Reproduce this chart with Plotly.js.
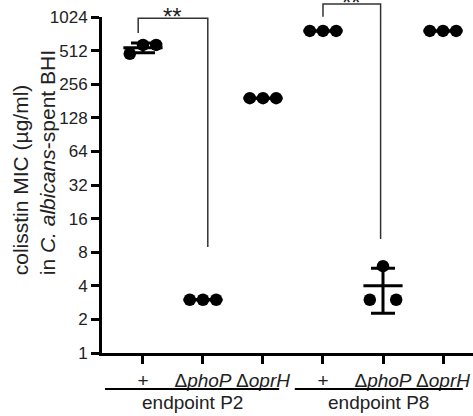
<!DOCTYPE html>
<html>
<head>
<meta charset="utf-8">
<script src="https://cdn.plot.ly/plotly-3.0.1.min.js"></script>
<style>html,body{margin:0;padding:0;background:#fff;}#chart{width:473px;height:416px;}</style>
</head>
<body>
<div id="chart"></div>
<script>
// ---- data ----
const categories = ['+', 'ΔphoP', 'ΔoprH', '+', 'ΔphoP', 'ΔoprH'];
const tickLabels = ['+', 'Δ<i>phoP</i>', 'Δ<i>oprH</i>', '+', 'Δ<i>phoP</i>', 'Δ<i>oprH</i>'];
const groupLabels = ['endpoint P2', 'endpoint P8'];
const p2Plus = [480, 576, 576];
const p2PhoP = [3, 3, 3];
const p2OprH = [192, 192, 192];
const p8Plus = [768, 768, 768];
const p8PhoP = [3, 6, 3];
const p8OprH = [768, 768, 768];
const yTickVals = [1, 2, 4, 8, 16, 32, 64, 128, 256, 512, 1024];
const yTickText = ['1', '2', '4', '8', '16', '32', '64', '128', '256', '512', '1024'];
const sigLabels = ['**', '**'];

const series = [p2Plus, p2PhoP, p2OprH, p8Plus, p8PhoP, p8OprH];

// ---- layout helpers ----
const font = 'Liberation Sans, Arial, sans-serif';
const spread = 0.22;
const xRange = [-0.683, 5.5];
const yRangeLog = [0, Math.log10(1024)];
function yPaper(v) { return (Math.log10(v) - yRangeLog[0]) / (yRangeLog[1] - yRangeLog[0]); }

const traces = [];
const ptsX = [], ptsY = [];
const meanX = [], meanY = [], sdArr = [];
series.forEach((vals, i) => {
  const n = vals.length;
  vals.forEach((v, j) => {
    ptsX.push(i + (j - (n - 1) / 2) * spread);
    ptsY.push(v);
  });
  const m = vals.reduce((a, b) => a + b, 0) / n;
  const sd = Math.sqrt(vals.reduce((a, b) => a + (b - m) * (b - m), 0) / (n - 1));
  meanX.push(i); meanY.push(m); sdArr.push(sd);
});

traces.push({
  x: meanX, y: meanY, type: 'scatter', mode: 'markers', hoverinfo: 'skip',
  marker: { symbol: 'line-ew', size: 28, line: { width: 3, color: '#000' }, color: '#000' },
  error_y: { type: 'data', array: sdArr, visible: true, color: '#000', thickness: 3, width: 12 },
  cliponaxis: false, showlegend: false
});
traces.push({
  x: ptsX, y: ptsY, type: 'scatter', mode: 'markers',
  marker: { size: 12.5, color: '#000' }, cliponaxis: false, showlegend: false
});

// brackets: category span, top value, left-leg bottom, right-leg bottom
const brackets = [
  { x0: -0.08, x1: 1.08, top: 1000, left: 735, right: 8.9, label: sigLabels[0] },
  { x0: 3.0, x1: 3.96, top: 1340, left: 1030, right: 10.5, label: sigLabels[1] }
];
const shapes = [];
const annotations = [];
brackets.forEach(b => {
  const yt = yPaper(b.top);
  shapes.push({ type: 'path', xref: 'x', yref: 'paper',
    path: `M ${b.x0},${yPaper(b.left)} L ${b.x0},${yt} L ${b.x1},${yt} L ${b.x1},${yPaper(b.right)}`,
    line: { color: '#333', width: 1.5 } });
  annotations.push({ x: (b.x0 + b.x1) / 2, y: yt, xref: 'x', yref: 'paper', text: b.label,
    showarrow: false, yanchor: 'bottom', yshift: -14,
    font: { family: font, size: 24, color: '#222' } });
});

// group underlines and labels
const groupSpans = [[-0.633, 2.27], [2.53, 5.33]];
groupSpans.forEach((s, k) => {
  shapes.push({ type: 'line', xref: 'x', yref: 'paper', x0: s[0], x1: s[1], y0: -0.107, y1: -0.107,
    line: { color: '#000', width: 2 } });
  annotations.push({ x: (s[0] + s[1]) / 2, y: -0.146, xref: 'x', yref: 'paper', text: groupLabels[k],
    showarrow: false, yanchor: 'middle', font: { family: font, size: 19, color: '#222' } });
});

// y title
annotations.push({
  xref: 'paper', yref: 'paper', x: -0.183, y: 0.565, textangle: -90, align: 'left',
  text: 'colisstin MIC (µg/ml)<br>in <i>C. albicans</i>-spent BHI', showarrow: false,
  xanchor: 'center', yanchor: 'middle', font: { family: font, size: 21, color: '#222' }
});

const layout = {
  width: 473, height: 416,
  margin: { l: 102, r: 0, t: 17, b: 63, pad: 0 },
  paper_bgcolor: '#fff', plot_bgcolor: '#fff',
  showlegend: false,
  font: { family: font, color: '#222' },
  xaxis: {
    range: xRange, tickvals: [0, 1, 2, 3, 4, 5], ticktext: tickLabels,
    showgrid: false, zeroline: false, showline: true, linewidth: 3, linecolor: '#000',
    ticks: 'outside', ticklen: 8, tickwidth: 3, tickcolor: '#000',
    tickfont: { family: font, size: 19, color: '#222' }, fixedrange: true
  },
  yaxis: {
    type: 'log', range: yRangeLog, tickvals: yTickVals, ticktext: yTickText,
    showgrid: false, zeroline: false, showline: true, linewidth: 3, linecolor: '#000',
    ticks: 'outside', ticklen: 8, tickwidth: 3, tickcolor: '#000',
    tickfont: { family: font, size: 17, color: '#222' }, fixedrange: true
  },
  shapes: shapes,
  annotations: annotations
};

Plotly.newPlot('chart', traces, layout, { staticPlot: true, displayModeBar: false });
</script>
</body>
</html>
